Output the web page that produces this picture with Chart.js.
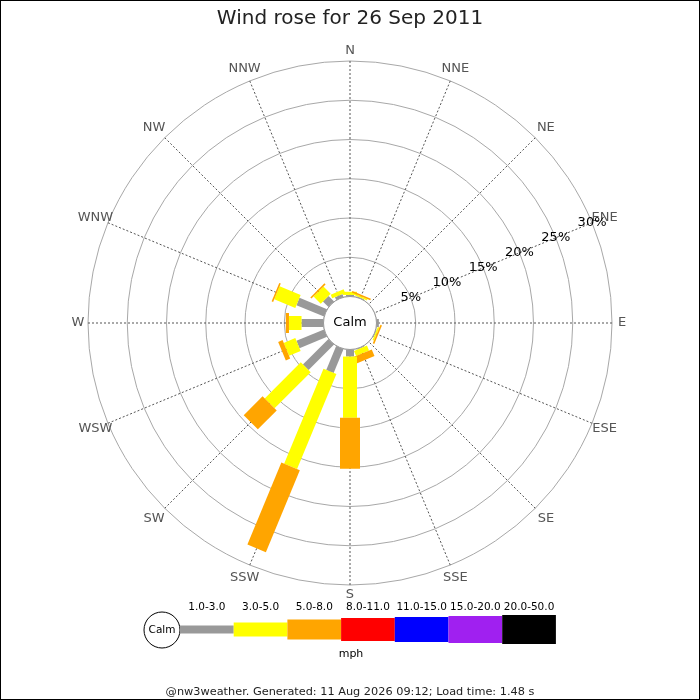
<!DOCTYPE html>
<html>
<head>
<meta charset="utf-8">
<script src="https://cdn.jsdelivr.net/npm/chart.js@4.4.1/dist/chart.umd.min.js"></script>
<style>
  html, body { margin: 0; padding: 0; background: #fff; }
  #wrap { width: 700px; height: 700px; }
</style>
</head>
<body>
<div id="wrap"><canvas id="rose" width="700" height="700"></canvas></div>
<script>
const directions = ["N", "NNE", "NE", "ENE", "E", "ESE", "SE", "SSE", "S", "SSW", "SW", "WSW", "W", "WNW", "NW", "NNW"];
const speedBins = ["1.0-3.0", "3.0-5.0", "5.0-8.0", "8.0-11.0", "11.0-15.0", "15.0-20.0", "20.0-50.0"];
const ringTicks = [0, 5, 10, 15, 20, 25, 30];

// % of the day from each direction, one list per speed bin (mph)
const mph1to3   = [0.2, 0.1, 0, 0, 0.3, 0.1, 0, 0.1, 0.9, 3.3, 4.6, 3.8, 2.8, 3.8, 1.0, 0.4];
const mph3to5   = [0.4, 0.2, 0, 0, 0, 0.2, 0, 0.7, 7.8, 13.1, 6.5, 1.6, 1.6, 2.9, 1.3, 0.5];
const mph5to8   = [0, 0.2, 0, 0, 0, 0.2, 0, 0.9, 6.5, 11.3, 3.4, 0.6, 0.4, 0.2, 0.2, 0];
const mph8to11  = [0, 0, 0, 0, 0, 0, 0, 0, 0, 0, 0, 0, 0, 0, 0, 0];
const mph11to15 = [0, 0, 0, 0, 0, 0, 0, 0, 0, 0, 0, 0, 0, 0, 0, 0];
const mph15to20 = [0, 0, 0, 0, 0, 0, 0, 0, 0, 0, 0, 0, 0, 0, 0, 0];
const mph20to50 = [0, 0, 0, 0, 0, 0, 0, 0, 0, 0, 0, 0, 0, 0, 0, 0];

const binColors = ["#999999", "#ffff00", "#ffa500", "#ff0000", "#0000ff", "#a020f0", "#000000"];
const binWidths = [8, 14, 20, 23, 25, 27, 29];
const FONT = "'DejaVu Sans', sans-serif";

const seriesData = [mph1to3, mph3to5, mph5to8, mph8to11, mph11to15, mph15to20, mph20to50];

// background + frame
const frame = {
  id: "frame",
  beforeDraw(chart) {
    const ctx = chart.ctx;
    ctx.save();
    ctx.fillStyle = "#fff";
    ctx.fillRect(0, 0, chart.width, chart.height);
    ctx.restore();
  },
  afterDraw(chart) {
    const ctx = chart.ctx;
    ctx.save();
    ctx.strokeStyle = "#000";
    ctx.lineWidth = 1;
    ctx.strokeRect(0.5, 0.5, chart.width - 1, chart.height - 1);
    ctx.restore();
  }
};

// stacked radial bars, calm circle, direction and % labels
const roseBars = {
  id: "roseBars",
  afterDatasetsDraw(chart) {
    const r = chart.scales.r;
    const ctx = chart.ctx;
    ctx.save();

    chart.data.labels.forEach((lab, i) => {
      let base = 0;
      chart.data.datasets.forEach((ds, k) => {
        const v = ds.data[i];
        if (!v) return;
        const p0 = r.getPointPosition(i, r.getDistanceFromCenterForValue(base));
        const p1 = r.getPointPosition(i, r.getDistanceFromCenterForValue(base + v));
        const hw = binWidths[k] / 2;
        const nx = -Math.sin(p0.angle) * hw;
        const ny = Math.cos(p0.angle) * hw;
        ctx.fillStyle = ds.backgroundColor;
        ctx.beginPath();
        ctx.moveTo(p0.x + nx, p0.y + ny);
        ctx.lineTo(p1.x + nx, p1.y + ny);
        ctx.lineTo(p1.x - nx, p1.y - ny);
        ctx.lineTo(p0.x - nx, p0.y - ny);
        ctx.closePath();
        ctx.fill();
        base += v;
      });
    });

    // calm circle
    const calmR = r.getDistanceFromCenterForValue(0);
    ctx.beginPath();
    ctx.arc(r.xCenter, r.yCenter, calmR, 0, Math.PI * 2);
    ctx.fillStyle = "#fff";
    ctx.fill();
    ctx.strokeStyle = "#999";
    ctx.lineWidth = 1;
    ctx.stroke();
    ctx.fillStyle = "#000";
    ctx.font = "13px " + FONT;
    ctx.textAlign = "center";
    ctx.textBaseline = "middle";
    ctx.fillText("Calm", r.xCenter, r.yCenter);

    // compass labels
    ctx.fillStyle = "#555";
    chart.data.labels.forEach((lab, i) => {
      const a = r.getIndexAngle(i);
      const p = r.getPointPosition(i, r.drawingArea + 10 + 5 * Math.abs(Math.sin(2 * a)));
      ctx.fillText(lab, p.x, p.y);
    });

    // ring labels along ENE
    ctx.fillStyle = "#000";
    r.ticks.forEach(t => {
      if (t.value <= 0) return;
      const p = r.getPointPosition(3, r.getDistanceFromCenterForValue(t.value));
      ctx.fillText(t.value + "%", p.x, p.y);
    });
    ctx.restore();
  }
};

// speed key under the rose
const speedKey = {
  id: "speedKey",
  afterDraw(chart) {
    const ctx = chart.ctx;
    const cy = 629.5;
    const x0 = 180;
    const segW = 53.7;
    ctx.save();
    ctx.textAlign = "center";
    ctx.textBaseline = "middle";

    ctx.beginPath();
    ctx.arc(162, 630, 18, 0, Math.PI * 2);
    ctx.fillStyle = "#fff";
    ctx.fill();
    ctx.strokeStyle = "#000";
    ctx.lineWidth = 1;
    ctx.stroke();
    ctx.fillStyle = "#000";
    ctx.font = "10.5px " + FONT;
    ctx.fillText("Calm", 162, 630);

    chart.data.datasets.forEach((ds, k) => {
      const x = x0 + k * segW;
      const h = binWidths[k];
      ctx.fillStyle = ds.backgroundColor;
      ctx.fillRect(x, cy - h / 2, segW, h);
      ctx.fillStyle = "#000";
      ctx.fillText(ds.label, x + segW / 2, 607);
    });

    ctx.font = "11px " + FONT;
    ctx.fillText("mph", 351, 654);
    ctx.restore();
  }
};

new Chart(document.getElementById("rose"), {
  type: "radar",
  data: {
    labels: directions,
    datasets: seriesData.map((vals, k) => ({
      label: speedBins[k],
      data: vals,
      backgroundColor: binColors[k],
      borderColor: binColors[k],
      showLine: false,
      pointRadius: 0,
      pointHoverRadius: 0,
      borderWidth: 0,
      fill: false
    }))
  },
  options: {
    responsive: false,
    animation: false,
    events: [],
    layout: { padding: 0 },
    scales: {
      r: {
        min: -3.375,
        max: 30,
        startAngle: 0,
        afterBuildTicks: (scale) => {
          scale.ticks = ringTicks.map(v => ({ value: v }));
        },
        ticks: { display: false },
        pointLabels: { display: false },
        grid: { circular: true, color: "#a8a8a8", lineWidth: 1 },
        angleLines: { color: "#555", lineWidth: 1, borderDash: [2, 2] }
      }
    },
    plugins: {
      legend: { display: false },
      tooltip: { enabled: false },
      title: {
        display: true,
        text: "Wind rose for 26 Sep 2011",
        color: "#222",
        font: { family: FONT, size: 20, weight: "normal" },
        padding: { top: 7, bottom: 30 }
      },
      subtitle: {
        display: true,
        position: "bottom",
        text: "@nw3weather. Generated: 11 Aug 2026 09:12; Load time: 1.48 s",
        color: "#222",
        font: { family: FONT, size: 11.3, weight: "normal" },
        padding: { top: 98.5, bottom: 1 }
      }
    }
  },
  plugins: [frame, roseBars, speedKey]
});
</script>
</body>
</html>
